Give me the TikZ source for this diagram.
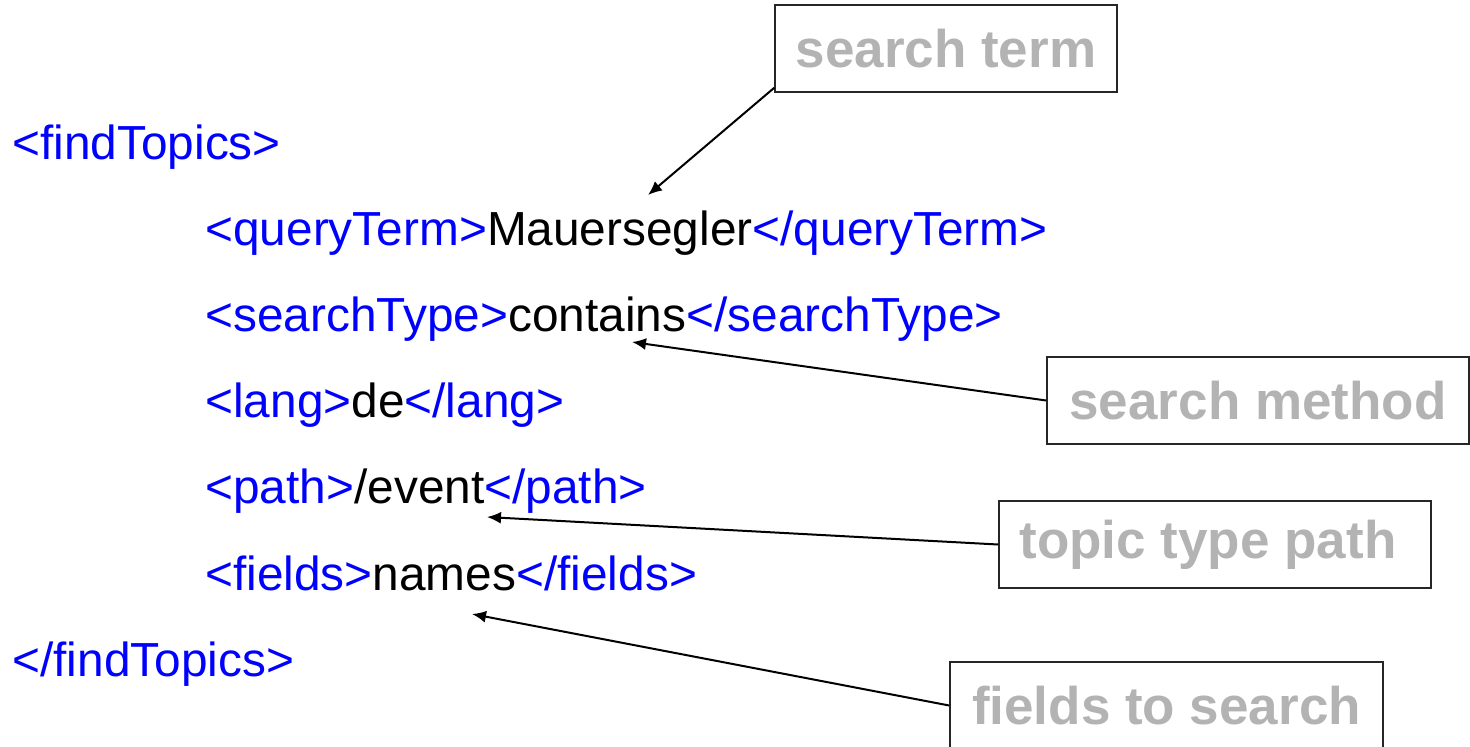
\documentclass[tikz,border=0pt]{standalone}
\usepackage{fontspec}
\setmainfont{Liberation Sans}
\usepackage{xcolor}
\usepackage{tikz}
\usetikzlibrary{arrows.meta,positioning,calc}
\definecolor{xblue}{HTML}{0000FF}
\definecolor{lgray}{HTML}{B3B3B3}
\definecolor{bink}{HTML}{262626}
\newcommand{\xtag}[1]{\textcolor{xblue}{#1}}

\begin{document}
\begin{tikzpicture}[x=0.5pt,y=-0.5pt,>={Latex[length=7pt,width=6pt]},
  code/.style={anchor=base west,inner sep=0pt,font=\fontsize{23.9}{28}\selectfont},
  lbox/.style={draw=bink,line width=0.75pt,minimum height=43.5pt,inner sep=0pt,
    text=lgray,font=\fontsize{26.5}{32}\selectfont\bfseries},
  ptr/.style={->,line width=1pt}]
\useasboundingbox (0,0) rectangle (1470,746);

% ================= the request =================
\node[code] (open)   at (12,159)  {\xtag{<findTopics>}};
\node[code] (query)  at (205,245) {\xtag{<queryTerm>}Mauersegler\xtag{</queryTerm>}};
\node[code] (stype)  at (205,331) {\xtag{<searchType>}contains\xtag{</searchType>}};
\node[code] (lang)   at (205,417) {\xtag{<lang>}de\xtag{</lang>}};
\node[code] (path)   at (205,503) {\xtag{<path>}/event\xtag{</path>}};
\node[code] (fields) at (205,590) {\xtag{<fields>}names\xtag{</fields>}};
\node[code] (close)  at (12,676)  {\xtag{</findTopics>}};

% ================= annotations =================
\node[lbox,minimum width=171pt] (term)   at (946,48.5)    {search term};
\node[lbox,minimum width=211pt] (method) at (1258,400.5)  {search method};
\node[lbox,minimum width=216pt] (ttype)  at (1215,544.5)  {topic type path\kern7pt};
\node[lbox,minimum width=216.5pt] (tosearch) at (1166.5,705.5) {fields to search};

% arrow tips sit just below the words they point at
\coordinate (qtip) at (648,195);
\coordinate (stip) at (632,342);
\coordinate (ptip) at (487,517);
\coordinate (ftip) at (472,614);

\draw[ptr] ($(term.south west)+(0,-5)$) -- (qtip);
\draw[ptr] (method.west) -- (stip);
\draw[ptr] (ttype.west) -- (ptip);
\draw[ptr] (tosearch.west) -- (ftip);
\end{tikzpicture}
\end{document}
